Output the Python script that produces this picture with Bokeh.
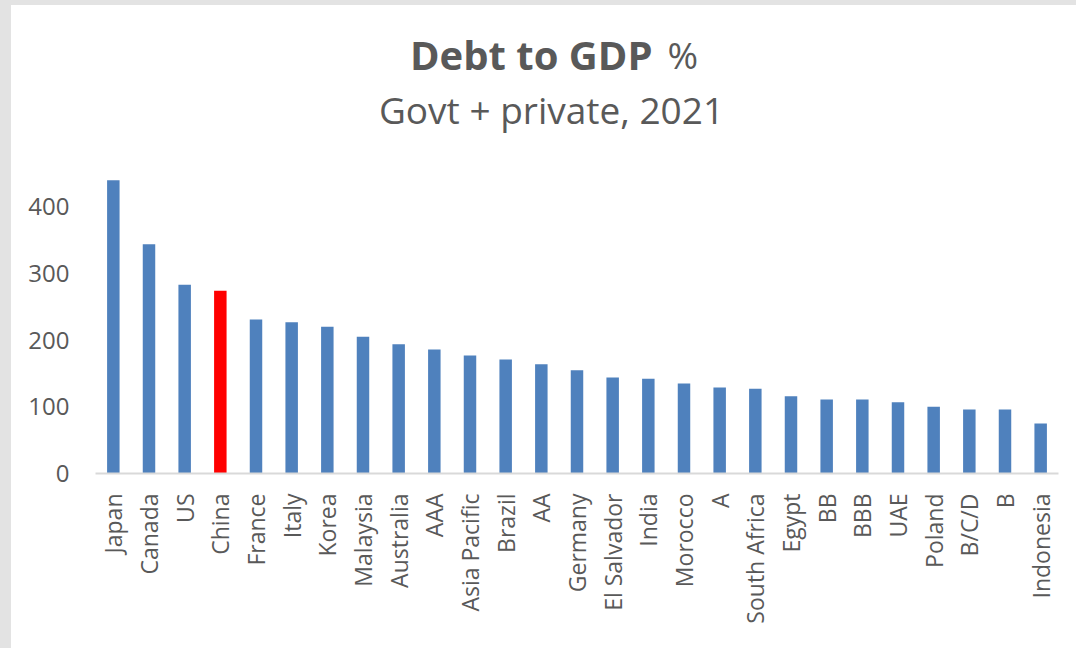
import math
from bokeh.plotting import figure
from bokeh.layouts import row, column
from bokeh.models import FactorRange, Range1d, FixedTicker, Label, ColumnDataSource, Spacer
from bokeh.embed import file_html
from bokeh.resources import INLINE

categories = ["Japan", "Canada", "US", "China", "France", "Italy", "Korea", "Malaysia",
              "Australia", "AAA", "Asia Pacific", "Brazil", "AA", "Germany", "El Salvador",
              "India", "Morocco", "A", "South Africa", "Egypt", "BB", "BBB", "UAE", "Poland",
              "B/C/D", "B", "Indonesia"]
values = [440, 344, 283, 274, 231, 227, 220, 205, 194, 186, 177, 171, 164, 155, 144, 142,
          135, 129, 127, 116, 111, 111, 107, 100, 96, 96, 75]
highlight = "China"
y_ticks = [0, 100, 200, 300, 400]

BLUE = "#4F81BD"
RED = "#FF0000"
TEXT = "#595959"
GRAY = "#E3E3E3"
FONT = "Open Sans"

colors = [RED if c == highlight else BLUE for c in categories]
src = ColumnDataSource(dict(x=categories, top=values, color=colors))

STRIP_L, STRIP_T = 11, 5
W, H = 1076 - STRIP_L, 648 - STRIP_T
LEFT, RIGHT, BOTTOM = 95 - STRIP_L, 18, 175
PX_PER_UNIT = 0.6667
AXIS_Y = 473 - STRIP_T          # axis position inside the figure
Y_TOP = AXIS_Y / PX_PER_UNIT    # frame extends up to the figure top


def page_y(y):
    """data value whose pixel lies at page row y"""
    return (473 - y) / PX_PER_UNIT


p = figure(width=W, height=H, x_range=FactorRange(*categories, range_padding=0),
           y_range=Range1d(0, Y_TOP), output_backend="svg", toolbar_location=None,
           min_border_left=LEFT, min_border_right=RIGHT, min_border_top=0,
           min_border_bottom=BOTTOM)
p.outline_line_color = None
p.grid.visible = False
p.background_fill_color = "white"
p.border_fill_color = "white"

p.vbar(x="x", top="top", width=0.35, color="color", source=src, line_color=None)

# axes
xa = p.xaxis[0]
xa.axis_line_color = "#D9D9D9"
xa.axis_line_width = 2
xa.major_tick_line_color = None
xa.minor_tick_line_color = None
xa.major_label_orientation = math.pi / 2
xa.major_label_text_font = FONT
xa.major_label_text_font_size = "23px"
xa.major_label_text_color = TEXT
xa.major_label_standoff = 14

ya = p.yaxis[0]
ya.axis_line_color = None
ya.major_tick_line_color = None
ya.minor_tick_line_color = None
ya.ticker = FixedTicker(ticks=y_ticks)
ya.major_label_text_font = FONT
ya.major_label_text_font_size = "24px"
ya.major_label_text_color = TEXT
ya.major_label_standoff = 20

# titles
title_y = page_y(54)
sub_y = page_y(109)
p.add_layout(Label(x=652 - 95, y=title_y, x_units="screen",
                   text="Debt to GDP", text_align="right", text_baseline="alphabetic",
                   text_font=FONT, text_font_style="bold", text_font_size="40px",
                   text_color=TEXT))
p.add_layout(Label(x=667 - 95, y=title_y, x_units="screen",
                   text="%", text_align="left", text_baseline="alphabetic",
                   text_font=FONT, text_font_size="37px", text_color=TEXT))
p.add_layout(Label(x=551 - 95, y=sub_y, x_units="screen",
                   text="Govt + private, 2021", text_align="center", text_baseline="alphabetic",
                   text_font=FONT, text_font_size="37px", text_color=TEXT))

left_strip = Spacer(width=STRIP_L, height=648, styles={"background-color": GRAY})
top_strip = Spacer(width=W, height=STRIP_T, styles={"background-color": GRAY})
layout = row(left_strip, column(top_strip, p, spacing=0), spacing=0)

open("out.html", "w").write(file_html(layout, INLINE))
